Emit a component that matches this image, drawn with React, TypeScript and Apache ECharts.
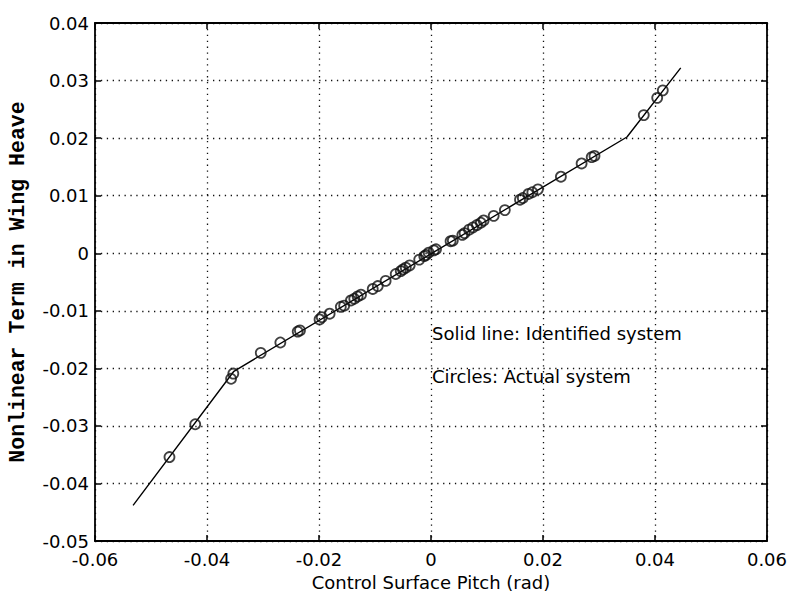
import React, { useEffect, useRef } from "react";
import * as echarts from "echarts";

// Measured pairs: control surface pitch (rad) vs. nonlinear heave term
const actualPitch = [
  -0.0467, -0.0421, -0.0357, -0.0353, -0.0304, -0.0269, -0.0238, -0.0234, -0.0199, -0.0195,
  -0.0181, -0.0161, -0.0155, -0.0143, -0.0137, -0.0131, -0.0125, -0.0104, -0.0095, -0.0081,
  -0.0063, -0.0054, -0.005, -0.0045, -0.0038, -0.0021, -0.0012, -0.0009, -0.0004, 0.0005,
  0.0009, 0.0035, 0.0039, 0.0056, 0.006, 0.0068, 0.0075, 0.0082, 0.0089, 0.0094,
  0.0112, 0.0132, 0.0159, 0.0164, 0.0174, 0.0181, 0.0191, 0.0232, 0.0269, 0.0287,
  0.0292, 0.038, 0.0404, 0.0414,
];
const actualHeave = [
  -0.0354, -0.0297, -0.0218, -0.0209, -0.0173, -0.0155, -0.0136, -0.0134, -0.0115, -0.0111,
  -0.0105, -0.0093, -0.0091, -0.0082, -0.0079, -0.0075, -0.0072, -0.0062, -0.0057, -0.0048,
  -0.0036, -0.0031, -0.0028, -0.0025, -0.0021, -0.0011, -0.0005, -0.0003, 0.0001, 0.0005,
  0.0007, 0.0021, 0.0022, 0.0032, 0.0035, 0.0041, 0.0045, 0.0049, 0.0053, 0.0057,
  0.0065, 0.0075, 0.0093, 0.0096, 0.0103, 0.0106, 0.0111, 0.0133, 0.0156, 0.0167,
  0.0169, 0.024, 0.027, 0.0283,
];

// Identified piecewise-linear model (breakpoints)
const modelPitch = [-0.0532, -0.0352, 0.035, 0.0446];
const modelHeave = [-0.0438, -0.0205, 0.0202, 0.0322];

const xTicks = { min: -0.06, max: 0.06, interval: 0.02 };
const yTicks = { min: -0.05, max: 0.04, interval: 0.01 };

const notes = ["Solid line: Identified system", "Circles: Actual system"];

const FONT = "'DejaVu Sans', Arial, sans-serif";
const MONO = "'Liberation Mono', 'DejaVu Sans Mono', monospace";

export default function App() {
  const ref = useRef<HTMLDivElement>(null);

  useEffect(() => {
    if (!ref.current) return;
    const chart = echarts.init(ref.current, undefined, { renderer: "svg" });

    const gridLine = {
      show: true,
      lineStyle: { color: "#111", width: 1.3, type: [1.3, 4.6] as any },
    };
    const tickIn = { show: true, inside: true, length: 6, lineStyle: { color: "#000", width: 1.5 } };
    const axisLine = { show: true, onZero: false, lineStyle: { color: "#000", width: 1.8 } };

    chart.setOption({
      animation: false,
      backgroundColor: "#fff",
      grid: { left: 95, right: 20, top: 23, bottom: 47, containLabel: false },
      xAxis: [
        {
          type: "value",
          ...xTicks,
          axisLine,
          axisTick: tickIn,
          splitLine: gridLine,
          axisLabel: { color: "#000", fontFamily: FONT, fontSize: 18, margin: 9 },
          name: "Control Surface Pitch (rad)",
          nameLocation: "middle",
          nameGap: 27,
          nameTextStyle: { color: "#000", fontFamily: FONT, fontSize: 18, verticalAlign: "top" },
        },
        {
          type: "value",
          position: "top",
          ...xTicks,
          axisLine,
          axisTick: tickIn,
          splitLine: { show: false },
          axisLabel: { show: false },
        },
      ],
      yAxis: [
        {
          type: "value",
          ...yTicks,
          axisLine,
          axisTick: tickIn,
          splitLine: gridLine,
          axisLabel: { color: "#000", fontFamily: FONT, fontSize: 18, margin: 6 },
        },
        {
          type: "value",
          position: "right",
          ...yTicks,
          axisLine,
          axisTick: tickIn,
          splitLine: { show: false },
          axisLabel: { show: false },
        },
      ],
      graphic: [
        {
          type: "text",
          x: 18,
          y: 282,
          rotation: Math.PI / 2,
          style: {
            text: "Nonlinear Term in Wing Heave",
            fill: "#000",
            font: `bold 21.5px ${MONO}`,
            align: "center",
            verticalAlign: "middle",
          },
        },
        {
          type: "text",
          x: 432,
          y: 333,
          style: { text: notes[0], fill: "#000", font: `18px ${FONT}`, align: "left", verticalAlign: "middle" },
        },
        {
          type: "text",
          x: 432,
          y: 376,
          style: { text: notes[1], fill: "#000", font: `18px ${FONT}`, align: "left", verticalAlign: "middle" },
        },
      ],
      series: [
        {
          type: "line",
          data: modelPitch.map((x, i) => [x, modelHeave[i]]),
          symbol: "none",
          lineStyle: { color: "#000", width: 1.4 },
          z: 3,
        },
        {
          type: "scatter",
          data: actualPitch.map((x, i) => [x, actualHeave[i]]),
          symbol: "circle",
          symbolSize: 10,
          itemStyle: { color: "rgba(255,255,255,0)", borderColor: "#111", borderWidth: 1.8 },
          z: 4,
        },
      ],
    });

    return () => chart.dispose();
  }, []);

  return (
    <div
      ref={ref}
      style={{ position: "fixed", left: 0, top: 0, width: 790, height: 596, background: "#fff" }}
    />
  );
}
